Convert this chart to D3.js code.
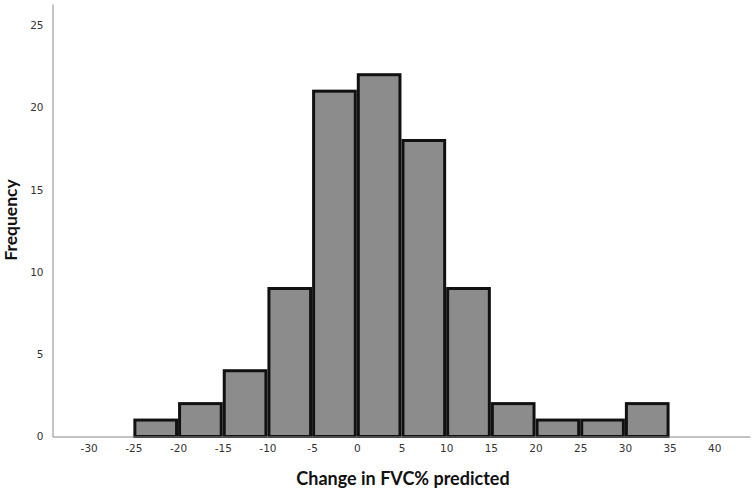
<!DOCTYPE html>
<html><head><meta charset="utf-8">
<script src="https://cdn.jsdelivr.net/npm/d3@7"></script>
<style>body{margin:0;background:#fff}</style>
</head><body>
<svg id="c" width="753" height="493"></svg>
<script>
const binStarts = [-25,-20,-15,-10,-5,0,5,10,15,20,25,30];
const binWidth = 5;
const counts = [1,2,4,9,21,22,18,9,2,1,1,2];
const xTicks = [-30,-25,-20,-15,-10,-5,0,5,10,15,20,25,30,35,40];
const yTicks = [0,5,10,15,20,25];
const xLabel = "Change in FVC% predicted";
const yLabel = "Frequency";

(function(){
const svg = d3.select("#c");
const mLeft = 52.5, mRight = 750, mTop = 4, mBottom = 436.5;
const x = d3.scaleLinear().domain([-34.05, 44.0]).range([mLeft, mRight]);
const y = d3.scaleLinear().domain([0, 26.3]).range([mBottom, mTop]);

svg.selectAll("rect.bar").data(binStarts).join("rect")
  .attr("class","bar")
  .attr("x", (d)=> x(d)+1.5)
  .attr("width", (d)=> x(d+binWidth)-x(d)-3)
  .attr("y", (d,i)=> y(counts[i]))
  .attr("height", (d,i)=> y(0)-y(counts[i]))
  .attr("fill","#8c8c8c").attr("stroke","#111").attr("stroke-width",3);

const fmt = d => String(d);
const xa = svg.append("g").attr("transform",`translate(0,${mBottom})`)
  .attr("font-family","'DejaVu Sans', Verdana, sans-serif").attr("font-size",10.5)
  .call(d3.axisBottom(x).tickValues(xTicks).tickSize(0).tickPadding(8).tickFormat(fmt));
xa.attr("font-family","'DejaVu Sans', Verdana, sans-serif").attr("font-size",10.5);
xa.select(".domain").attr("stroke","#888").attr("stroke-width",1);
xa.selectAll("text").attr("fill","#333");

const ya = svg.append("g").attr("transform",`translate(${mLeft},0)`)
  .call(d3.axisLeft(y).tickValues(yTicks).tickSize(0).tickPadding(9).tickFormat(fmt));
ya.attr("font-family","'DejaVu Sans', Verdana, sans-serif").attr("font-size",10.5);
ya.select(".domain").attr("stroke","#888").attr("stroke-width",1);
ya.selectAll("text").attr("fill","#333");

svg.append("text").attr("x", 403).attr("y", 485).attr("text-anchor","middle")
  .attr("font-family","Lato, 'Open Sans', sans-serif").attr("font-weight","bold").attr("font-size",18).attr("fill","#111")
  .text(xLabel);
svg.append("text").attr("transform","translate(17,220) rotate(-90)").attr("text-anchor","middle")
  .attr("font-family","Lato, 'Open Sans', sans-serif").attr("font-weight","bold").attr("font-size",17.5).attr("fill","#111")
  .text(yLabel);
})();
</script>
</body></html>
